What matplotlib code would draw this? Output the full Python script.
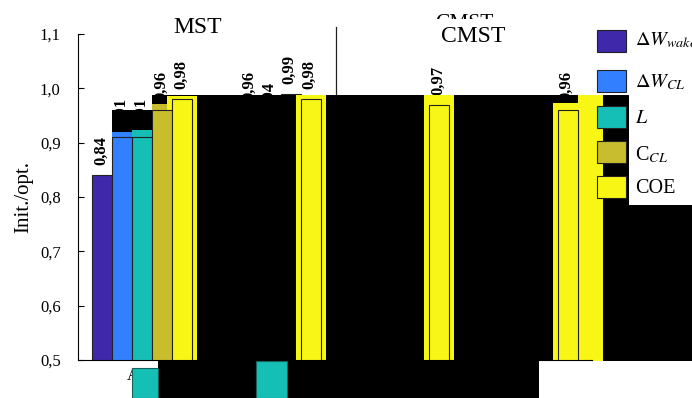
import numpy as np
import matplotlib
matplotlib.use("Agg")
import matplotlib.pyplot as plt
from matplotlib.patches import Rectangle

plt.rcParams['font.family'] = ['Liberation Serif', 'DejaVu Serif']
plt.rcParams['mathtext.fontset'] = 'stix'

# =========================
# DATOS
# =========================
series = ['dw_wake', 'dw_cl', 'l', 'c_cl', 'coe']
legend_labels = [r'$\Delta W_{wake}$', r'$\Delta W_{CL}$', r'$L$', r'C$_{CL}$', 'COE']
colors = ['#3f28a9', '#3380fe', '#15bfb6', '#c8be2d', '#f7f614']

groups = [1, 2, 3, 4]           # MST (1, 2) / CMST (3, 4)
dw_wake = [0.84, 0.86, 0.82, 0.81]
dw_cl = [0.91, 0.96, 0.87, 0.86]
l_vals = [0.91, 0.94, 0.88, 0.87]
c_cl = [0.96, 0.99, 0.90, 0.90]
coe = [0.98, 0.98, 0.97, 0.96]

# segunda pasada (barras fantasma)
ghost_g1 = [np.nan, 0.919, 0.923, 0.972]
ghost_coe = [0.985, 0.988, 0.988, 0.973]

yticks = [0.5, 0.6, 0.7, 0.8, 0.9, 1.0, 1.1]

values = [dw_wake, dw_cl, l_vals, c_cl, coe]

# =========================
# FIGURA
# =========================
fig = plt.figure(figsize=(6.92, 3.98), dpi=100)
ax = fig.add_axes([78 / 692, 38 / 398, 514 / 692, 326 / 398])
ax.set_xlim(0.5, 4.5)
ax.set_ylim(0.5, 1.1)

pitch = 0.1556
x = np.array(groups, dtype=float)

for k, vals in enumerate(values):
    pos = x + (k - 2) * pitch
    for g, (p, v) in enumerate(zip(pos, vals)):
        if series[k] == 'coe' or g == 0:
            z = 3
        else:
            z = 1
        ax.bar(p, v - 0.5, bottom=0.5, width=pitch, color=colors[k],
               edgecolor='#222222', linewidth=0.8, zorder=z)
        ax.text(p - 0.008, v + 0.018, f"{v:.2f}".replace('.', ','),
                rotation=90, ha='center', va='bottom', fontsize=12,
                fontweight='bold', zorder=1.2)

# barras fantasma
for k, gv in enumerate(ghost_g1):
    if np.isnan(gv):
        continue
    ax.bar(x[0] + (k - 2) * pitch, gv - 0.5, bottom=0.5, width=pitch,
           color=colors[k], linewidth=0, zorder=2)
ax.bar(x + 2 * pitch, np.array(ghost_coe) - 0.5, bottom=0.5, width=0.2335,
       color=colors[4], linewidth=0, zorder=2)
ax.add_patch(Rectangle((4.391, 0.4982), 0.195, 0.4896, color=colors[4],
                       lw=0, zorder=2, clip_on=False))

# bloques negros
for (x0, y0, w, h) in [(0.765, 0.92, 0.319, 0.04),
                       (1.076, 0.4982, 3.712, 0.4896),
                       (4.788, 0.4982, 0.6, 0.2871),
                       (1.1226, 0.43, 2.965, 0.0682)]:
    ax.add_patch(Rectangle((x0, y0), w, h, color='black', lw=0,
                           zorder=1.8, clip_on=False))

# cuadrados inferiores
for (x0, y0, w, h) in [(0.920, 0.43, 0.2026, 0.0553),
                       (1.885, 0.43, 0.241, 0.0682)]:
    ax.add_patch(Rectangle((x0, y0), w, h, facecolor=colors[2],
                           edgecolor='#1a5f5c', lw=0.8, zorder=4, clip_on=False))

ax.text(0.879, 0.4853, 'A', ha='left', va='top', fontsize=12, zorder=1)

# separador MST / CMST
ax.plot([2.508, 2.508], [0.6, 1.113], color='#222222', lw=0.9,
        zorder=1.5, clip_on=False)

ax.text(1.43, 1.1019, 'MST', ha='center', va='baseline', fontsize=17)
ax.text(3.504, 1.137, 'CMST', ha='center', va='top', fontsize=15.5, zorder=1)
ax.add_patch(Rectangle((3.2626, 1.0706), 0.64, 0.0570, color='white', lw=0,
                       zorder=5, clip_on=False))
ax.text(3.574, 1.0859, 'CMST', ha='center', va='baseline', fontsize=17,
        zorder=6)

# ejes
ax.set_yticks(yticks)
ax.set_yticklabels([f"{t:.1f}".replace('.', ',') for t in yticks])
ax.set_xticks([])
ax.tick_params(axis='y', direction='in', length=4, width=0.8,
               labelsize=12, pad=27.4)
for t in ax.get_yticklabels():
    t.set_horizontalalignment('left')
for s in ['top', 'right']:
    ax.spines[s].set_visible(False)
ax.spines['left'].set_linewidth(0.8)
ax.spines['bottom'].set_linewidth(0.8)
ax.spines['left'].set_zorder(0.5)
ax.set_ylabel('Init./opt.', fontsize=15)
ax.yaxis.set_label_coords(-0.088, 0.5)

# leyenda
patch_y = [0.8970, 0.7977, 0.7073, 0.6193, 0.5314]
label_y = [0.8869, 0.7807, 0.6917, 0.5980, 0.5143]
for lab, c, yc, yb in zip(legend_labels, colors, patch_y, label_y):
    fig.add_artist(Rectangle((0.8627, yc - 0.0277), 0.0419, 0.0553,
                             facecolor=c, edgecolor='#222222', lw=0.8,
                             transform=fig.transFigure, zorder=10))
    fig.text(0.9176, yb, lab, fontsize=14.5, va='baseline', ha='left', zorder=10)

fig.savefig('out.png', dpi=100)
